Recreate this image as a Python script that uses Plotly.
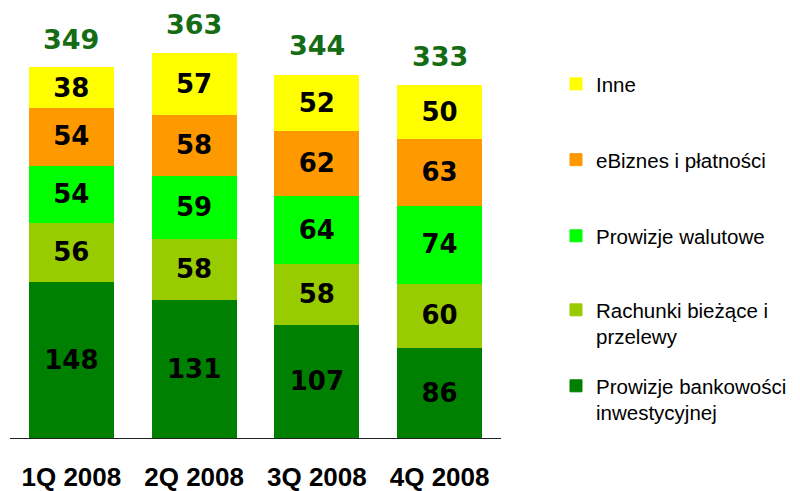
import plotly.graph_objects as go

quarters = ["1Q 2008", "2Q 2008", "3Q 2008", "4Q 2008"]

# series, bottom of the stack first
inwestycyjne = [148, 131, 107, 86]
rachunki = [56, 58, 58, 60]
walutowe = [54, 59, 64, 74]
ebiznes = [54, 58, 62, 63]
inne = [38, 57, 52, 50]
totals = [349, 363, 344, 333]

series = [
    ("Prowizje bankowości<br>inwestycyjnej", inwestycyjne, "#008000"),
    ("Rachunki bieżące i<br>przelewy", rachunki, "#99CC00"),
    ("Prowizje walutowe", walutowe, "#00FF00"),
    ("eBiznes i płatności", ebiznes, "#FF9900"),
    ("Inne", inne, "#FFFF00"),
]

# legend centre (paper y) for each series, same order as above
legend_y = [0.090, 0.2675, 0.472, 0.650, 0.827]

bar_font = dict(family="DejaVu Sans", size=26, color="black")
legend_font = dict(family="Liberation Sans, Arial", size=20.5, color="black")

fig = go.Figure()
for i, (name, vals, color) in enumerate(series):
    fig.add_bar(
        x=quarters, y=vals, name=name,
        marker=dict(color=color, line=dict(width=1, color=color)),
        text=[f"<b>{v}</b>" for v in vals],
        textposition="inside", insidetextanchor="middle",
        textfont=bar_font, constraintext="none",
        legend="legend" if i == 0 else f"legend{i + 1}",
    )

for q, t in zip(quarters, totals):
    fig.add_annotation(
        x=q, y=t, text=f"<b>{t}</b>", showarrow=False,
        yanchor="middle", yshift=29,
        font=dict(family="DejaVu Sans", size=27, color="#146C14"),
    )

legends = {}
for i, ly in enumerate(legend_y):
    key = "legend" if i == 0 else f"legend{i + 1}"
    legends[key] = dict(
        x=1.112, xanchor="left", y=ly, yanchor="middle",
        font=legend_font, valign="top", bgcolor="rgba(0,0,0,0)",
        borderwidth=0, itemclick=False,
    )

# page body has an 8px margin, so the figure is 8px smaller each way
fig.update_layout(
    width=792, height=483,
    margin=dict(l=2, r=299, t=2, b=53, autoexpand=False),
    barmode="stack", bargap=0.314,
    plot_bgcolor="white", paper_bgcolor="white",
    showlegend=True,
    uniformtext=dict(minsize=26, mode="show"),
    **legends,
)
fig.update_xaxes(
    showline=True, linecolor="#222222", linewidth=1, automargin=False,
    showgrid=False, ticks="outside", ticklen=16, tickcolor="rgba(0,0,0,0)",
    tickfont=dict(family="Liberation Sans, Arial", size=26, color="black"),
    tickvals=quarters, ticktext=[f"<b>{q}</b>" for q in quarters],
    range=[-0.5, 3.5], fixedrange=True,
)
fig.update_yaxes(visible=False, range=[0, 404.5], fixedrange=True, automargin=False)

fig.write_html("out.html")
